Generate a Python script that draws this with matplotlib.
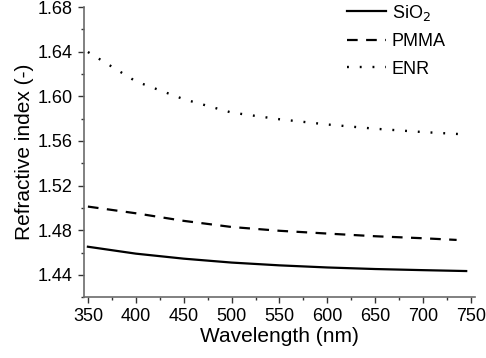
import matplotlib
matplotlib.use('Agg')
import matplotlib.pyplot as plt
from matplotlib.ticker import MultipleLocator

plt.rcParams['font.family'] = ['Liberation Sans', 'DejaVu Sans']

# values
wl_sio2 = [350, 400, 450, 500, 550, 600, 650, 700, 745]
n_sio2 = [1.4652, 1.4590, 1.4545, 1.4510, 1.4485, 1.4466, 1.4452, 1.4442, 1.4434]

wl_pmma = [350, 400, 450, 500, 550, 600, 650, 700, 735]
n_pmma = [1.5012, 1.4952, 1.4884, 1.4829, 1.4795, 1.4770, 1.4746, 1.4728, 1.4713]

wl_enr = [350, 400, 450, 500, 550, 600, 650, 700, 738]
n_enr = [1.6398, 1.6135, 1.5975, 1.5855, 1.5795, 1.5748, 1.5710, 1.5680, 1.5662]

fig = plt.figure(figsize=(4.86, 3.58), dpi=100)
ax = fig.add_axes([0.173, 0.17, 0.804, 0.81])

ax.plot(wl_sio2, n_sio2, color='black', lw=1.6, linestyle='-', label='SiO$_2$')
ax.plot(wl_pmma, n_pmma, color='black', lw=1.6, linestyle=(0, (4.8, 3.8)), label='PMMA')
ax.plot(wl_enr, n_enr, color='black', lw=1.7, linestyle=(0, (0.8, 4.6)), label='ENR')

ax.set_xlim(346, 754)
ax.set_ylim(1.42, 1.68)
ax.xaxis.set_major_locator(MultipleLocator(50))
ax.xaxis.set_minor_locator(MultipleLocator(25))
ax.yaxis.set_major_locator(MultipleLocator(0.04))
ax.yaxis.set_minor_locator(MultipleLocator(0.02))
ax.set_yticks([1.44, 1.48, 1.52, 1.56, 1.60, 1.64, 1.68])

for side in ['top', 'right']:
    ax.spines[side].set_visible(False)
for side in ['left', 'bottom']:
    ax.spines[side].set_color('#6b6b6b')
    ax.spines[side].set_linewidth(1.2)
ax.spines['left'].set_bounds(1.42, 1.68)

ax.tick_params(which='major', direction='out', length=4.5, width=1, color='#333333',
               labelsize=13, pad=3.5)
ax.tick_params(which='minor', direction='out', length=2.5, width=1, color='#333333')

ax.set_xlabel('Wavelength (nm)', fontsize=15, labelpad=1)
ax.set_ylabel('Refractive index (-)', fontsize=15, labelpad=3)

ax.legend(loc='upper left', frameon=False, fontsize=13, handlelength=2.2,
          handletextpad=0.3, labelspacing=0.58, borderaxespad=0, borderpad=0,
          bbox_to_anchor=(0.672, 1.015))

fig.savefig('out.png', dpi=100)
